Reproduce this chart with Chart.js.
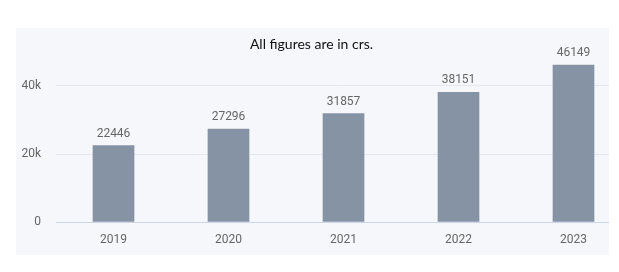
<!DOCTYPE html>
<html>
<head>
<meta charset="utf-8">
<script src="https://cdn.jsdelivr.net/npm/chart.js@4.4.1/dist/chart.umd.min.js"></script>
<style>
  body { margin: 0; background: #fff; width: 619px; height: 272px; position: relative; overflow: hidden; }
  #panel { position: absolute; left: 16px; top: 28px; width: 593px; height: 227px; background: #f5f7fa; overflow: hidden; }
  #title { position: absolute; left: 0; width: 623px; top: 35px; text-align: center; font: 14px Lato, sans-serif; color: #111; }
</style>
</head>
<body>
<div id="panel"><canvas id="mycanvas" width="615" height="227"></canvas></div>
<div id="title">All figures are in crs.</div>
<script>
var years = ["2019", "2020", "2021", "2022", "2023"];
var revenue = [22446, 27296, 31857, 38151, 46149];
var yTicks = [0, 20000, 40000];
var yTickLabels = ["0", "20k", "40k"];

// values above each bar
var barLabels = {
	id: 'barLabels',
	afterDatasetsDraw: function(chart) {
		var ctx = chart.ctx;
		var meta = chart.getDatasetMeta(0);
		ctx.save();
		ctx.font = '12px Roboto, sans-serif';
		ctx.fillStyle = '#666666';
		ctx.textAlign = 'center';
		ctx.textBaseline = 'bottom';
		meta.data.forEach(function(bar, i) {
			ctx.fillText(String(revenue[i]), bar.x, bar.y - 6);
		});
		ctx.restore();
	}
};

var ctx = document.getElementById('mycanvas');
var barGraph = new Chart(ctx, {
	type: 'bar',
	data: {
		labels: years,
		datasets: [{
			label: 'Figures',
			data: revenue,
			backgroundColor: '#8693a5',
			borderWidth: 0,
			barThickness: 41
		}]
	},
	options: {
		responsive: false,
		animation: false,
		layout: { padding: { top: 24, bottom: 0, left: 0, right: 0 } },
		plugins: {
			legend: { display: false },
			tooltip: { enabled: false }
		},
		scales: {
			x: {
				afterFit: function(axis) { axis.height = 33; },
				grid: { display: false },
				border: { color: '#ccd6eb', width: 1 },
				ticks: { color: '#666666', padding: 3, font: { family: 'Roboto, sans-serif', size: 12 } }
			},
			y: {
				min: 0,
				max: 50000,
				afterBuildTicks: function(axis) {
					axis.ticks = yTicks.map(function(v) { return { value: v }; });
				},
				afterFit: function(axis) { axis.width = 40; },
				grid: { color: '#e3e7ee', drawTicks: false },
				border: { display: false },
				ticks: {
					color: '#666666',
					padding: 15,
					font: { family: 'Roboto, sans-serif', size: 12 },
					callback: function(value) {
						return yTickLabels[yTicks.indexOf(value)];
					}
				}
			}
		}
	},
	plugins: [barLabels]
});
</script>
</body>
</html>
